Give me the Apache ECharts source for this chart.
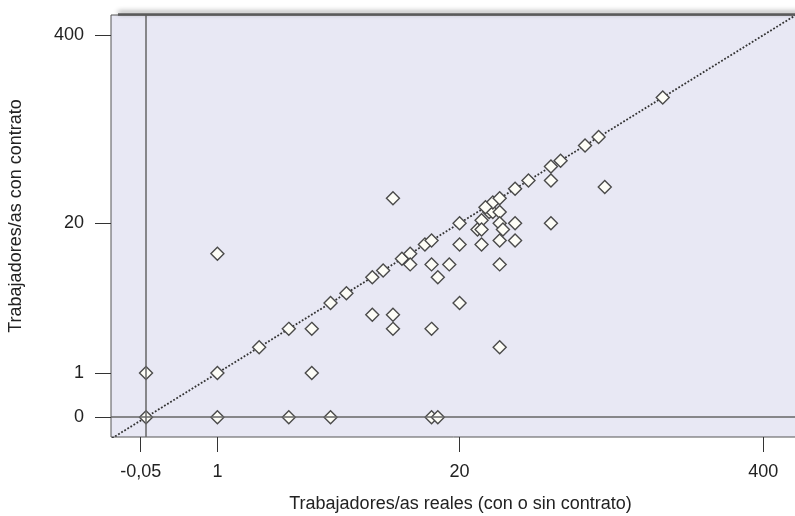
<!DOCTYPE html>
<html>
<head>
<meta charset="utf-8">
<script src="https://cdn.jsdelivr.net/npm/echarts@6.0.0/dist/echarts.min.js"></script>
<style>
  html, body { margin: 0; padding: 0; background: #fff; }
  #chart { width: 795px; height: 516px; }
</style>
</head>
<body>
<div id="chart"></div>
<script>
// trabajadores/as reales (x) vs con contrato (y), one entry per point
const realWorkers = [
  0, 1, 3, 5, 15, 16,
  0, 1, 1,
  2, 3, 4, 4, 5, 6, 8, 9, 8, 10, 10, 10,
  11, 12, 12, 14, 15, 15, 16, 18, 15,
  20, 20, 20, 24, 25, 25, 25,
  27, 28, 30, 28, 30, 26,
  30, 31, 30, 30, 30,
  35, 35, 35, 40, 50, 50, 50, 55, 85, 70, 80, 150
]
const contractWorkers = [
  0, 0, 0, 0, 0, 0,
  1, 1, 12,
  2, 3, 3, 1, 5, 6, 8, 9, 4, 4, 3, 30,
  11, 12, 10, 14, 15, 10, 8, 10, 3,
  20, 14, 5, 18, 21, 18, 14,
  24, 24, 24, 28, 30, 26,
  20, 18, 15, 10, 2,
  35, 20, 15, 40, 50, 40, 20, 55, 36, 70, 80, 150
]

const xTicks = [-0.05, 1, 20, 400]
const xTickLabels = ['-0,05', '1', '20', '400']
const yTicks = [0, 1, 20, 400]
const yTickLabels = ['0', '1', '20', '400']

// both axes use log(v + 1)
const tr = v => Math.log(v + 1)

const xMin = -0.34, xMax = 6.35
const yMin = -0.31, yMax = 6.31

const points = realWorkers.map((x, i) => [tr(x), tr(contractWorkers[i])])
const xTickT = xTicks.map(tr)
const yTickT = yTicks.map(tr)

const labelFor = (ticks, labels) => val => {
  const i = ticks.findIndex(t => Math.abs(t - val) < 1e-6)
  return i >= 0 ? labels[i] : ''
}

const font = "'Liberation Sans', Arial, Helvetica, sans-serif"
const textColor = '#222'

const chart = echarts.init(document.getElementById('chart'), null, { renderer: 'canvas' })

chart.setOption({
  animation: false,
  grid: {
    left: 111, top: 15, right: -5, bottom: 79,
    outerBoundsMode: 'none',
    containLabel: false,
    show: true,
    backgroundColor: '#e8e8f4',
    borderColor: '#555',
    borderWidth: 1
  },
  xAxis: {
    type: 'value',
    min: xMin, max: xMax,
    name: 'Trabajadores/as reales (con o sin contrato)',
    nameLocation: 'middle',
    nameGap: 58,
    nameTextStyle: { fontSize: 18, color: textColor, fontFamily: font, padding: [0, 0, 0, 10] },
    axisLine: { show: false, onZero: false },
    splitLine: { show: false },
    axisTick: {
      show: true, length: 15, inside: false,
      customValues: xTickT,
      lineStyle: { color: '#333', width: 1 }
    },
    axisLabel: {
      customValues: xTickT,
      margin: 26,
      fontSize: 18, color: textColor, fontFamily: font,
      formatter: labelFor(xTickT, xTickLabels)
    }
  },
  yAxis: {
    type: 'value',
    min: yMin, max: yMax,
    name: 'Trabajadores/as con contrato',
    nameLocation: 'middle',
    nameGap: 86,
    nameTextStyle: { fontSize: 18, color: textColor, fontFamily: font, padding: [0, 0, 0, 20] },
    axisLine: { show: false, onZero: false },
    splitLine: { show: false },
    axisTick: {
      show: true, length: 16, inside: false,
      customValues: yTickT,
      lineStyle: { color: '#333', width: 1 }
    },
    axisLabel: {
      customValues: yTickT,
      margin: 27,
      fontSize: 18, color: textColor, fontFamily: font,
      formatter: labelFor(yTickT, yTickLabels)
    }
  },
  graphic: [{
    // heavy top edge of the frame with its shadow
    type: 'line',
    shape: { x1: 118, y1: 14.5, x2: 800, y2: 14.5 },
    style: {
      stroke: '#5a5a5a', lineWidth: 2.5,
      shadowBlur: 5, shadowColor: 'rgba(0,0,0,0.45)', shadowOffsetY: -2
    },
    z: 10
  }],
  series: [
    {
      // y = x reference line, plus the zero lines
      type: 'line',
      data: [[Math.min(xMin, yMin) - 1, Math.min(xMin, yMin) - 1], [Math.max(xMax, yMax) + 1, Math.max(xMax, yMax) + 1]],
      showSymbol: false,
      clip: true,
      z: 1,
      lineStyle: { color: '#333', width: 1.8, type: 'dotted' },
      markLine: {
        silent: true,
        symbol: 'none',
        label: { show: false },
        lineStyle: { color: '#666', width: 1.5, type: 'solid' },
        data: [{ xAxis: 0 }, { yAxis: 0 }]
      }
    },
    {
      type: 'scatter',
      data: points,
      z: 3,
      symbol: 'diamond',
      symbolSize: 13,
      itemStyle: { color: '#fdfdf7', borderColor: '#4a4a4a', borderWidth: 1.4, opacity: 1 }
    }
  ]
})
</script>
</body>
</html>
